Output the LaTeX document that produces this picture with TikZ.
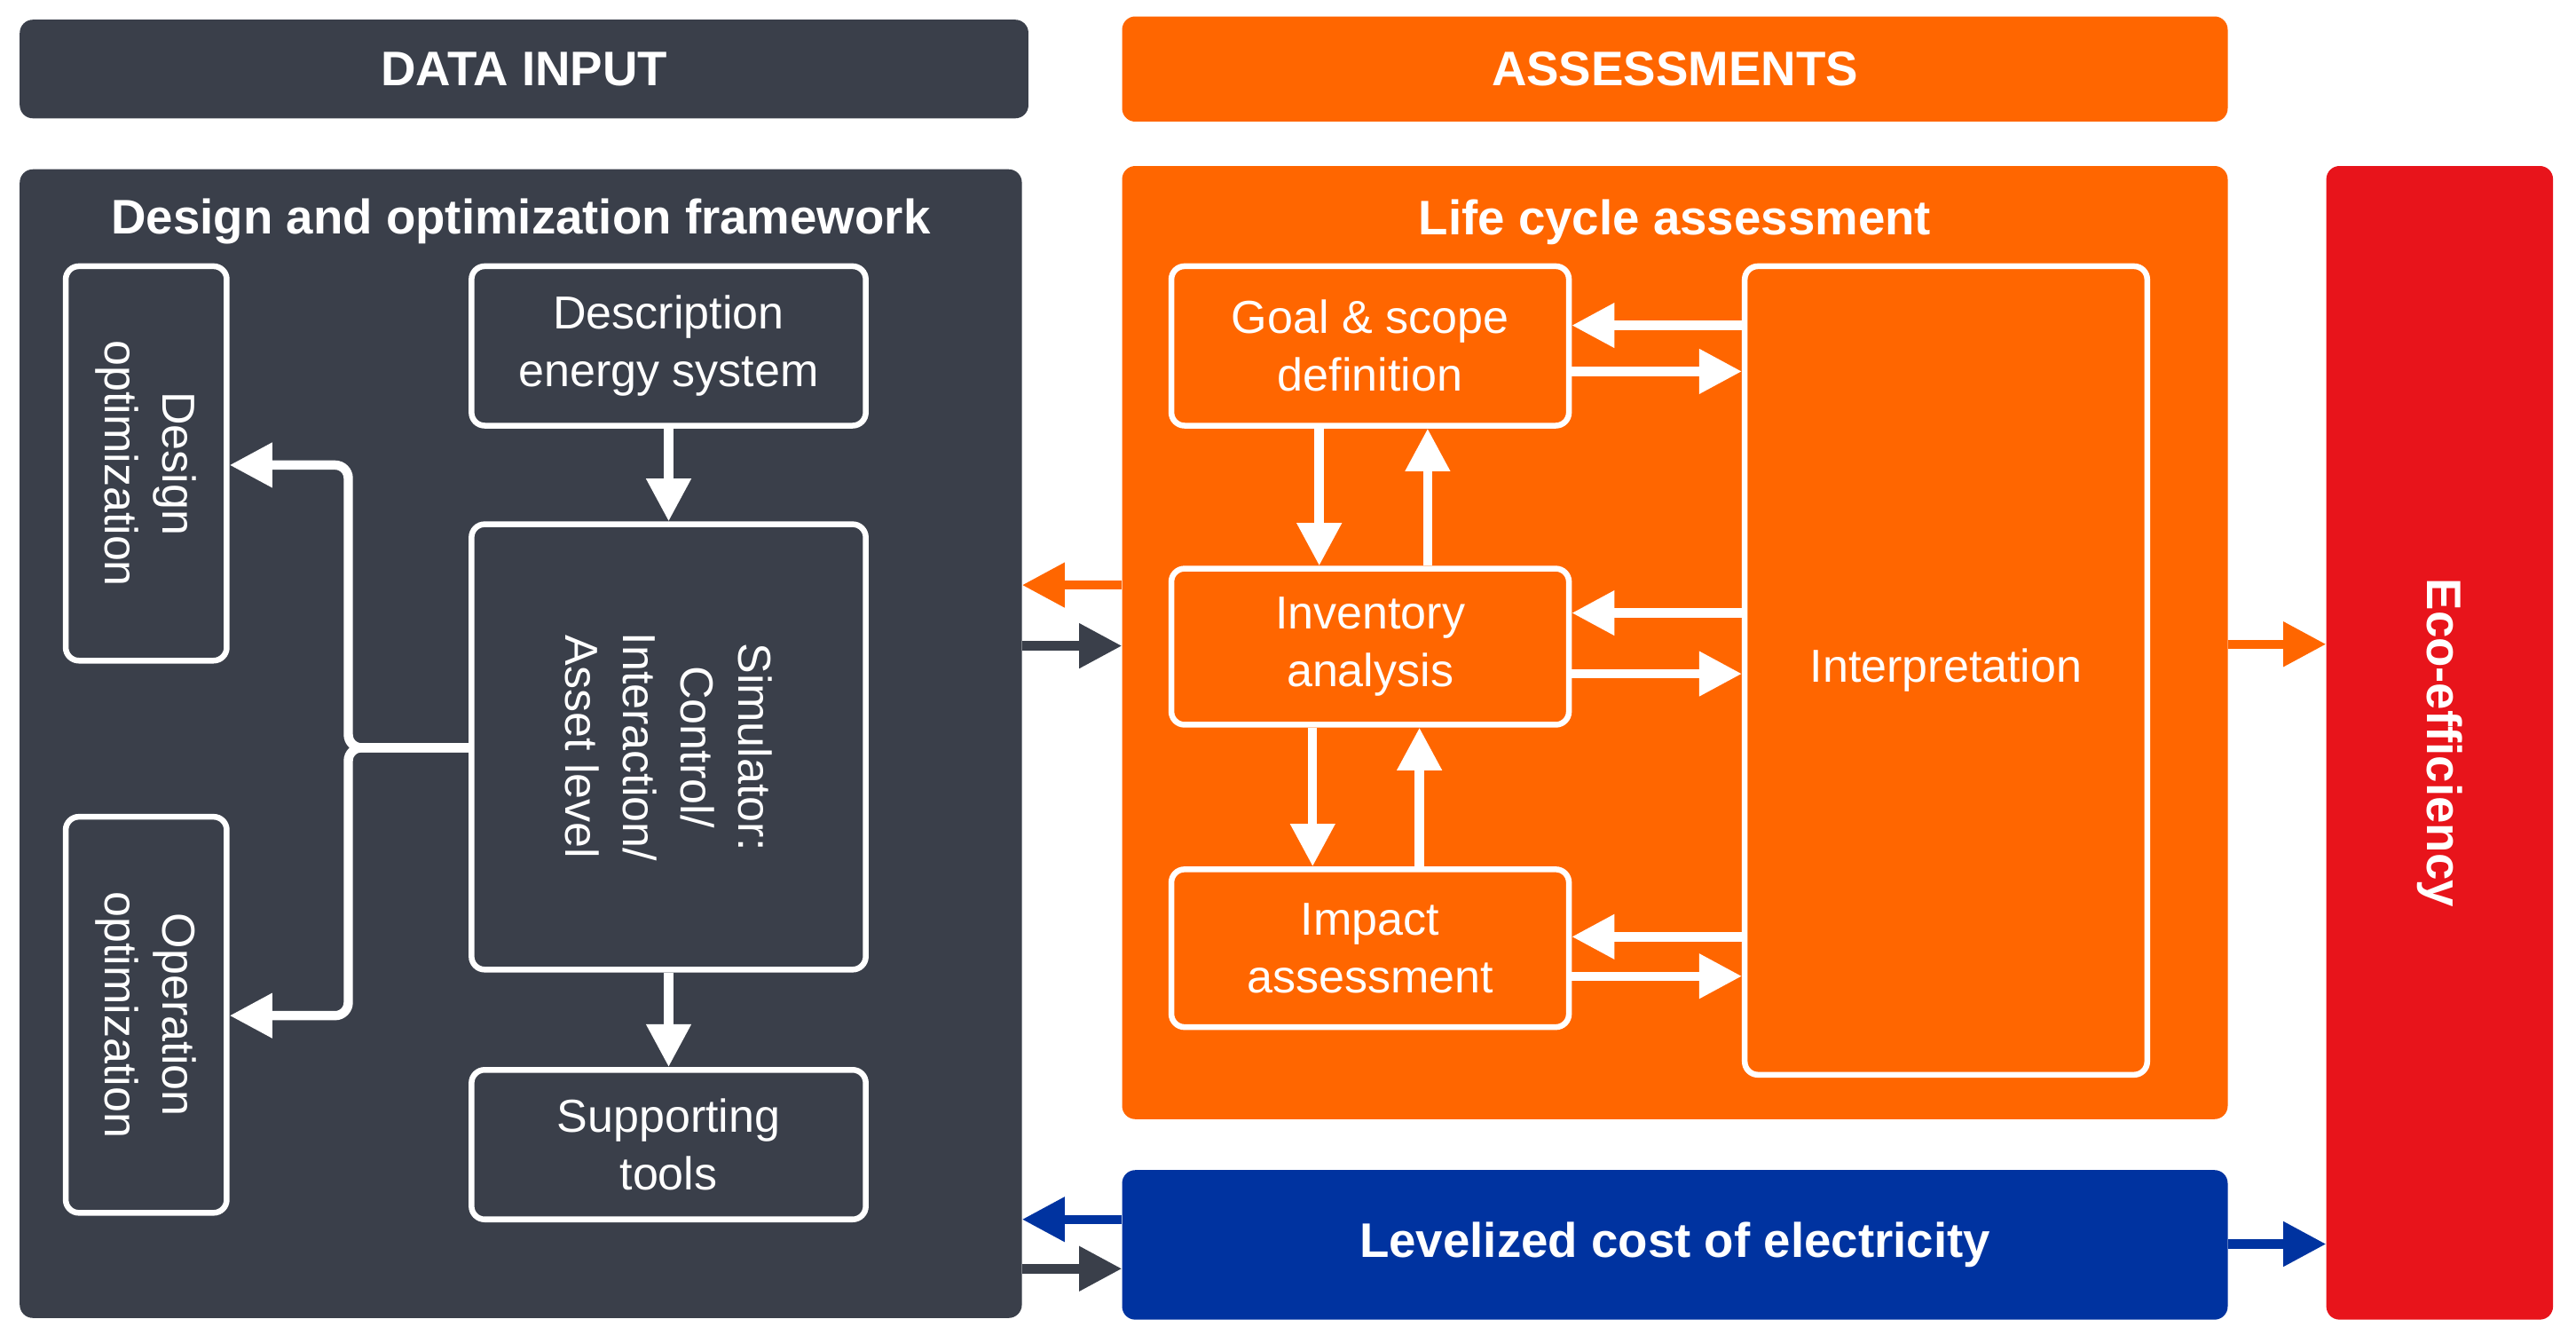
\documentclass[tikz,border=0pt]{standalone}
\usepackage{fontspec}
\setmainfont{Liberation Sans}
\usetikzlibrary{arrows.meta}
\definecolor{dk}{HTML}{3A3F4A}
\definecolor{org}{HTML}{FF6600}
\definecolor{rd}{HTML}{E8141B}
\definecolor{bl}{HTML}{0033A0}
\begin{document}
\begin{tikzpicture}[x=0.05cm,y=-0.05cm,
 bg/.style={rounded corners=0.4cm,inner sep=0pt},
 box/.style={draw=white,line width=5pt,rounded corners=0.4cm,inner sep=0pt,text=white,align=center,font=\fontsize{40}{50}\selectfont},
 ttl/.style={text=white,font=\bfseries\fontsize{42}{50}\selectfont},
 ar/.style={line width=8pt,-{Triangle[length=1.3cm,width=1.3cm]}}]
\useasboundingbox (0,0) rectangle (1568,817);
\fill[white] (0,0) rectangle (1568,817);
\node[bg,fill=dk,minimum width=30.7cm,minimum height=3.0cm] (din) at (319,42) {};
\node[ttl] at (din) {DATA INPUT};
\node[bg,fill=org,minimum width=33.65cm,minimum height=3.2cm] (ass) at (1019.5,42) {};
\node[ttl] at (ass) {ASSESSMENTS};
\node[bg,fill=dk,minimum width=30.5cm,minimum height=34.95cm] (fw) at (317,452.5) {};
\node[ttl] (fwt) at (317,135) {Design and optimization framework};
\node[bg,fill=org,minimum width=33.65cm,minimum height=29cm] (lca) at (1019.5,391) {};
\node[ttl] (lcat) at (1019.5,135) {Life cycle assessment};
\node[bg,fill=rd,minimum width=6.9cm,minimum height=35.1cm] (eco) at (1485,452) {};
\node[ttl,rotate=-90] at (eco) {Eco-efficiency};
\node[bg,fill=bl,minimum width=33.65cm,minimum height=4.55cm] (lcoe) at (1019.5,757.5) {};
\node[ttl] at (lcoe) {Levelized cost of electricity};

\node[box,minimum width=4.9cm,minimum height=12cm] (dopt) at (89,282) {};
\node[text=white,align=center,rotate=-90,font=\fontsize{40}{50}\selectfont] at (dopt) {Design\\optimization};
\node[box,minimum width=4.9cm,minimum height=12.05cm] (oopt) at (89,617.5) {};
\node[text=white,align=center,rotate=-90,font=\fontsize{40}{50}\selectfont] at (oopt) {Operation\\optimization};
\node[box,minimum width=12cm,minimum height=4.85cm] (desc) at (407,210.5) {Description\\energy system};
\node[box,minimum width=12cm,minimum height=13.55cm] (sim) at (407,454.5) {};
\node[text=white,align=center,rotate=-90,font=\fontsize{40}{50}\selectfont] at (sim) {Simulator:\\Control/\\Interaction/\\Asset level};
\node[box,minimum width=12cm,minimum height=4.55cm] (sup) at (407,696.5) {Supporting\\tools};

\node[box,minimum width=12.1cm,minimum height=4.85cm] (goal) at (834,210.5) {Goal \& scope\\definition};
\node[box,minimum width=12.1cm,minimum height=4.75cm] (inv) at (834,393.5) {Inventory\\analysis};
\node[box,minimum width=12.1cm,minimum height=4.8cm] (imp) at (834,577) {Impact\\assessment};
\node[box,minimum width=12.25cm,minimum height=24.6cm] (int) at (1184.5,408) {Interpretation};

\begin{scope}[white]
\draw[ar] (desc) -- (sim);
\draw[ar] (sim) -- (sup);
\draw[ar,rounded corners=0.4cm] (sim.west |- 0,455) -- (212,455) -- (212,283) -- (dopt.east |- 0,283);
\draw[ar,rounded corners=0.4cm] (sim.west |- 0,455) -- (212,455) -- (212,618) -- (oopt.east |- 0,618);
\draw[ar] (int.west |- 0,198) -- (goal.east |- 0,198);
\draw[ar] (goal.east |- 0,226) -- (int.west |- 0,226);
\draw[ar] (int.west |- 0,373) -- (inv.east |- 0,373);
\draw[ar] (inv.east |- 0,410) -- (int.west |- 0,410);
\draw[ar] (int.west |- 0,570) -- (imp.east |- 0,570);
\draw[ar] (imp.east |- 0,594) -- (int.west |- 0,594);
\draw[ar] (goal.south -| 803,0) -- (inv.north -| 803,0);
\draw[ar] (inv.north -| 869,0) -- (goal.south -| 869,0);
\draw[ar] (inv.south -| 799,0) -- (imp.north -| 799,0);
\draw[ar] (imp.north -| 864,0) -- (inv.south -| 864,0);
\end{scope}
\draw[ar,org] (lca.west |- 0,356) -- (fw.east |- 0,356);
\draw[ar,dk] (fw.east |- 0,393) -- (lca.west |- 0,393);
\draw[ar,bl] (lcoe.west |- 0,742) -- (fw.east |- 0,742);
\draw[ar,dk] (fw.east |- 0,772) -- (lcoe.west |- 0,772);
\draw[ar,org] (lca.east |- 0,392) -- (eco.west |- 0,392);
\draw[ar,bl] (lcoe.east |- 0,757) -- (eco.west |- 0,757);
\end{tikzpicture}
\end{document}
